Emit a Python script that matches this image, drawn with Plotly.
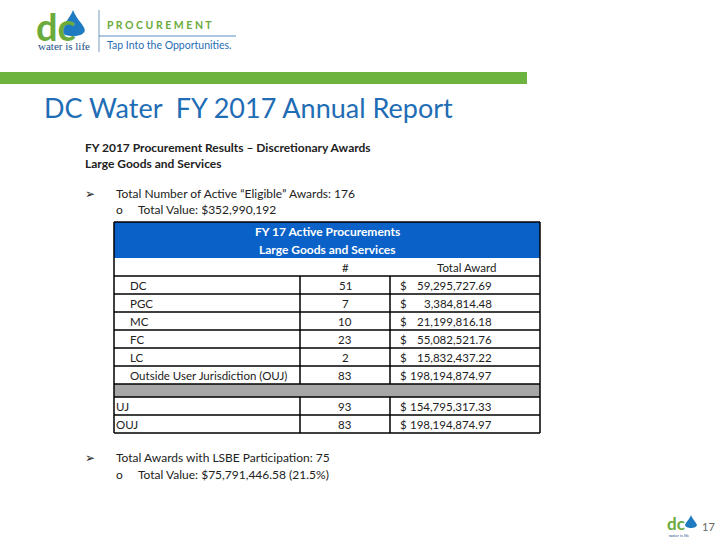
import plotly.graph_objects as go

# table data
regions = ["DC", "PGC", "MC", "FC", "LC", "Outside User Jurisdiction (OUJ)"]
counts = [51, 7, 10, 23, 2, 83]
awards = [59295727.69, 3384814.48, 21199816.18, 55082521.76, 15832437.22, 198194874.97]

groups = ["UJ", "OUJ"]
group_counts = [93, 83]
group_awards = [154795317.33, 198194874.97]

title = "DC Water  FY 2017 Annual Report"
subtitle = ["FY 2017 Procurement Results \u2013 Discretionary Awards", "Large Goods and Services"]
eligible_awards = 176
eligible_value = "$352,990,192"
lsbe_awards = 75
lsbe_value = "$75,791,446.58 (21.5%)"
page_no = "17"

FONT = "Lato"
BLUE = "#0a62c8"
GREEN = "#6db33f"
DARK = "#222222"

fig = go.Figure()
fig.add_trace(go.Scatter(x=[0, 720], y=[0, 540], mode="markers",
                         marker=dict(opacity=0), hoverinfo="skip", showlegend=False))

shapes = []
ann = []


def text(x, y, s, size=11, color=DARK, anchor="left", bold=False, family=FONT):
    if bold:
        s = "<b>" + s + "</b>"
    ann.append(dict(x=x, y=y, xref="x", yref="y", text=s, showarrow=False,
                    xanchor=anchor, yanchor="middle", borderpad=0,
                    font=dict(size=size, color=color, family=family)))


def line(x0, y0, x1, y1, color="black", width=1.5):
    shapes.append(dict(type="line", x0=x0, y0=y0, x1=x1, y1=y1, xref="x", yref="y",
                       line=dict(color=color, width=width)))


def rect(x0, y0, x1, y1, fill, lc=None, width=0):
    shapes.append(dict(type="rect", x0=x0, y0=y0, x1=x1, y1=y1, xref="x", yref="y",
                       fillcolor=fill, line=dict(color=lc or fill, width=width), layer="below"))


def drop(cx, top, bottom, color="#1f7bc1"):
    h = bottom - top
    w = h * 0.42
    path = (f"M {cx},{top} C {cx+w*0.3},{top+h*0.35} {cx+w},{bottom-h*0.45} {cx+w},{bottom-h*0.28} "
            f"C {cx+w},{bottom} {cx-w},{bottom} {cx-w},{bottom-h*0.28} "
            f"C {cx-w},{bottom-h*0.45} {cx-w*0.3},{top+h*0.35} {cx},{top} Z")
    shapes.append(dict(type="path", path=path, xref="x", yref="y",
                       fillcolor=color, line=dict(width=0)))


# logo top-left
text(35, 26, "dc", size=38, color="#6aab3c", bold=True)
drop(73, 10, 38)
text(37, 46, "water is life", size=11, color="#1b4f8a", family="Liberation Serif")
line(99, 10, 99, 52, color="#7a9cc0", width=1)
text(106, 25, "P R O C U R E M E N T", size=10.5, color="#6aab3c", bold=True)
line(99, 36, 236, 36, color="#5a8fc8", width=1)
text(106, 45, "Tap Into the Opportunities.", size=10.5, color="#1f6db5")

# green bar
rect(0, 72, 527, 84, GREEN)

# title
text(43, 107, title, size=27, color="#1f6db5")

# intro text
text(84, 147, subtitle[0], size=12, bold=True)
text(84, 163, subtitle[1], size=12, bold=True)
text(84, 193, "\u27a2", size=12)
text(115, 193, f"Total Number of Active \u201cEligible\u201d Awards: {eligible_awards}", size=12)
text(115, 209, "o", size=12)
text(137, 209, f"Total Value: {eligible_value}", size=12)

# table
L, R = 114, 540
C1, C2 = 300, 390
top, hdr, colhdr = 222, 258, 276
rh = 18
rect(L, top, R, hdr, BLUE)
text((L + R) / 2, 231, "<b>FY 17 Active Procurements</b>", size=12, color="white", anchor="center")
text((L + R) / 2, 249, "<b>Large Goods and Services</b>", size=12, color="white", anchor="center")
text((C1 + C2) / 2, 267, "#", size=11.5, anchor="center")
text(466, 267, "Total Award", size=11.5, anchor="center")

y = colhdr
for r, c, a in zip(regions, counts, awards):
    line(L, y, R, y)
    line(C1, y, C1, y + rh)
    line(C2, y, C2, y + rh)
    text(129, y + rh / 2, r, size=11.5)
    text((C1 + C2) / 2, y + rh / 2, str(c), size=11.5, anchor="center")
    text(399, y + rh / 2, "$", size=11.5)
    text(493, y + rh / 2, f"{a:,.2f}", size=11.5, anchor="right")
    y += rh
line(L, y, R, y)
rect(L, y, R, y + 13, "#a6a6a6")
y += 13
for g, c, a in zip(groups, group_counts, group_awards):
    line(L, y, R, y)
    line(C1, y, C1, y + rh)
    line(C2, y, C2, y + rh)
    text(115, y + rh / 2, g, size=11.5)
    text((C1 + C2) / 2, y + rh / 2, str(c), size=11.5, anchor="center")
    text(399, y + rh / 2, "$", size=11.5)
    text(493, y + rh / 2, f"{a:,.2f}", size=11.5, anchor="right")
    y += rh
line(L, top, L, y)
line(R, top, R, y)
line(L, top, R, top)
line(L, y, R, y)

# LSBE text
text(84, 457, "\u27a2", size=12)
text(115, 457, f"Total Awards with LSBE Participation: {lsbe_awards}", size=12)
text(115, 474, "o", size=12)
text(137, 474, f"Total Value: {lsbe_value}", size=12)

# footer logo + page number
text(666, 523, "dc", size=17, color="#6aab3c", bold=True)
drop(691, 515, 529)
text(668, 535, "water is life", size=4, color="#1b4f8a")
text(701, 526, page_no, size=11, color="#666666")

fig.update_layout(
    width=720, height=540,
    margin=dict(l=0, r=0, t=0, b=0),
    paper_bgcolor="white", plot_bgcolor="white",
    xaxis=dict(range=[0, 720], visible=False, fixedrange=True),
    yaxis=dict(range=[540, 0], visible=False, fixedrange=True),
    shapes=shapes, annotations=ann,
    font=dict(family=FONT),
)

fig.write_html("out.html", config=dict(displayModeBar=False),
               post_script="document.body.style.margin='0px';document.body.style.overflow='hidden';")
